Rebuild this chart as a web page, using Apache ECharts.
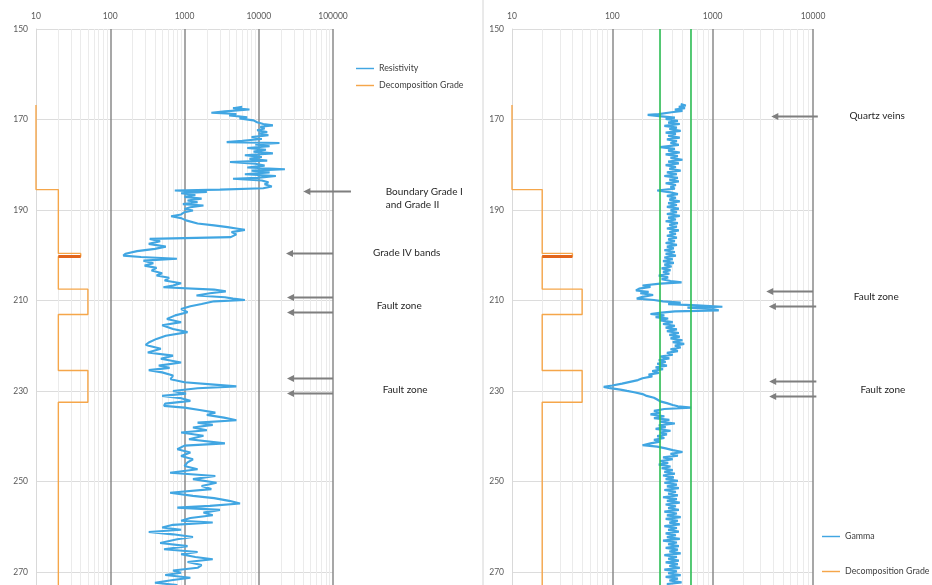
<!DOCTYPE html>
<html><head><meta charset="utf-8">
<script src="https://cdn.jsdelivr.net/npm/echarts@6/dist/echarts.min.js"></script>
<style>html,body{margin:0;padding:0;background:#fff;}#chart{width:932px;height:585px;}</style>
</head><body><div id="chart"></div>
<script>
// ---- tick labels ----
const depthTicks = [150, 170, 190, 210, 230, 250, 270];
const resXTicks = [10, 100, 1000, 10000, 100000];
const gamXTicks = [10, 100, 1000, 10000];

// ---- resistivity (left panel) ----
const resDepth = [167.2,167.5,167.8,168.2,168.5,168.8,169.1,169.5,169.8,170.2,170.6,171.0,171.3,171.6,172.0,172.4,172.8,173.1,173.5,173.9,174.3,174.7,175.0,175.2,175.5,175.9,176.3,176.7,177.1,177.5,177.9,178.3,178.7,179.1,179.4,179.8,180.2,180.6,181.0,181.3,181.7,182.1,182.5,182.9,183.1,183.5,183.9,184.3,184.8,185.2,185.5,185.7,186.0,186.3,186.7,187.1,187.5,187.9,188.3,188.7,189.0,189.4,189.8,190.1,190.5,191.0,191.4,191.8,192.3,193.0,193.4,193.8,194.1,194.4,194.9,195.4,196.0,196.4,196.9,197.5,198.1,198.6,199.1,199.7,200.1,200.4,200.8,201.2,201.8,202.3,202.8,203.4,204.0,204.5,205.0,205.6,206.2,206.7,207.1,207.6,208.0,208.4,208.9,209.3,209.6,209.9,210.2,210.8,211.3,211.9,212.6,213.3,214.1,214.8,215.5,216.3,217.0,217.8,218.5,219.3,219.8,220.0,220.7,221.5,222.2,222.9,223.7,224.4,224.9,225.4,225.9,226.6,227.4,228.1,228.6,229.0,229.4,230.0,230.6,231.1,231.6,232.2,232.8,233.3,233.7,234.2,234.8,235.3,235.9,236.5,237.0,237.5,238.1,238.7,239.2,239.9,240.7,241.6,242.1,242.9,243.6,244.4,245.1,245.8,246.6,247.3,248.1,248.8,249.5,250.3,251.0,251.7,252.5,253.2,253.7,254.3,254.9,255.4,255.8,256.3,256.9,257.5,258.1,258.7,259.1,259.6,260.2,260.7,261.2,261.7,262.3,262.8,263.6,264.3,265.0,265.6,266.1,266.7,267.2,267.8,268.5,269.1,269.7,270.2,270.7,271.3,271.8,272.4,272.9,273.5];
const resValue = [6000,4500,7500,3500,2300,5000,4000,7000,5500,8500,9500,11500,15500,10500,12000,9500,13000,10000,13500,8000,11000,6000,3700,19000,9000,14000,7000,12500,8500,15500,6500,11000,7500,13000,4100,9000,12000,7000,22500,8000,14000,6500,17000,9500,4500,11000,13500,12000,15000,11500,3000,740,2000,900,1400,1000,1700,1100,1500,950,1800,1200,1000,1300,1000,900,660,900,1050,1500,2500,3800,5000,6500,4300,5000,4200,340,470,330,560,400,230,160,150,260,790,280,380,290,420,360,500,420,620,540,900,700,520,2500,3600,2200,1450,3500,4500,6500,2500,1700,1200,900,1100,750,580,900,500,700,1100,560,420,330,300,330,480,320,700,480,900,450,630,330,500,700,650,1000,2500,5000,1500,700,1050,500,900,1200,550,530,1000,1600,2600,2000,3400,5000,1500,2400,1300,2000,900,1800,1150,3500,1000,800,1200,900,1300,1100,1000,1500,640,2600,1300,2700,1700,2300,640,1300,2500,4000,5600,2200,800,3000,1800,2400,1200,900,2400,700,500,900,330,700,1300,800,470,1100,530,1500,900,1400,2400,1100,1700,1500,700,900,550,1200,700,400,800,600];

// ---- gamma (right panel) ----
const gamDepth = [166.6,166.9,167.2,167.5,167.8,168.1,168.4,168.8,169.0,169.3,169.6,169.9,170.3,170.7,171.0,171.4,171.8,172.1,172.5,172.9,173.2,173.6,174.0,174.4,174.8,175.2,175.6,176.1,176.5,176.9,177.3,177.7,178.1,178.5,178.9,179.3,179.7,180.1,180.5,180.9,181.3,181.7,182.1,182.5,182.9,183.3,183.7,184.1,184.5,184.9,185.3,185.7,186.1,186.5,186.9,187.3,187.7,188.1,188.5,188.9,189.3,189.7,190.1,190.5,190.9,191.3,191.7,192.1,192.5,192.9,193.3,193.7,194.1,194.5,194.9,195.3,195.7,196.1,196.5,196.9,197.3,197.7,198.1,198.5,198.9,199.3,199.7,200.1,200.5,200.9,201.3,201.7,202.1,202.5,202.9,203.3,203.7,204.1,204.5,204.9,205.3,205.7,206.0,206.3,206.7,207.0,207.4,207.8,208.1,208.4,208.8,209.2,209.6,209.9,210.2,210.5,210.8,211.1,211.4,211.6,211.9,212.2,212.4,212.7,213.0,213.3,213.7,214.0,214.4,214.8,215.2,215.6,216.0,216.4,216.8,217.2,217.6,218.0,218.4,218.8,219.2,219.6,220.0,220.4,220.8,221.2,221.6,222.0,222.4,222.8,223.2,223.6,224.0,224.4,224.8,225.2,225.6,226.0,226.4,226.8,227.2,227.6,228.0,228.4,228.8,229.1,229.4,229.7,230.0,230.3,230.7,231.1,231.5,231.9,232.3,232.7,233.1,233.4,233.7,234.0,234.4,234.8,235.2,235.6,236.0,236.4,236.8,237.2,237.6,238.0,238.4,238.8,239.2,239.6,240.0,240.4,240.8,241.2,241.6,242.0,242.3,242.7,243.1,243.5,243.9,244.3,244.7,245.1,245.5,245.9,246.3,246.7,247.1,247.5,247.9,248.3,248.7,249.1,249.5,249.9,250.3,250.7,251.1,251.5,251.9,252.3,252.7,253.1,253.5,253.9,254.3,254.7,255.1,255.5,255.9,256.3,256.7,257.1,257.5,257.9,258.3,258.7,259.1,259.5,259.9,260.3,260.7,261.1,261.5,261.9,262.3,262.7,263.1,263.5,263.9,264.3,264.7,265.1,265.5,265.9,266.3,266.7,267.1,267.5,267.9,268.3,268.7,269.1,269.5,269.9,270.3,270.7,271.1,271.5,271.9,272.3,272.7,273.2];
const gamValue = [480,540,460,530,420,500,390,290,225,310,420,340,450,360,470,330,440,370,480,340,430,360,470,350,440,380,460,300,420,360,470,340,450,380,500,360,460,340,430,370,480,350,440,330,450,370,460,340,430,380,420,280,380,450,350,430,370,470,360,440,350,460,380,440,350,470,360,430,340,450,370,440,350,460,370,430,350,440,360,420,340,440,350,410,330,420,340,430,330,400,320,410,330,390,310,380,320,370,290,360,310,380,490,300,200,240,185,172,230,190,255,200,175,260,320,480,360,700,1250,560,1000,1150,420,310,240,330,270,360,300,400,320,420,340,440,350,460,370,470,380,500,400,520,420,480,380,450,350,400,300,370,290,340,280,350,270,320,250,290,230,250,200,180,150,125,100,82,95,120,140,165,200,220,260,280,300,350,400,450,610,330,260,300,240,330,260,370,300,420,290,340,270,380,300,350,280,330,260,300,240,200,280,340,400,500,380,450,320,400,300,360,290,380,310,400,330,420,320,410,340,450,330,440,350,460,330,430,360,450,320,440,350,470,340,430,360,460,330,440,350,480,340,450,370,470,330,440,360,460,340,430,350,470,320,440,360,460,340,450,370,480,330,440,360,460,340,450,370,470,330,440,360,480,340,450,370,490,350,460];

// ---- decomposition grade (both panels) ----
const gradeDepth = [166.8,185.5,185.5,199.6,199.6,200.3,200.3,207.5,207.5,213.1,213.1,225.5,225.5,232.5,232.5,276];
const gradeValue = [10,10,20,20,40,40,20,20,50,50,20,20,50,50,20,20];
const bandDepth = [200.3, 200.3];
const bandValue = [20, 40];

// ---- gamma reference lines ----
const gammaLimits = [300, 600];

// ---- annotations ----
const arrowPanel = [0,0,0,0,0,0,1,1,1,1,1];
const arrowDepth = [185.75,199.5,209.3,212.5,227.2,230.4,169.2,207.9,211.2,227.8,231.1];
const arrowFrom  = [174600,100000,100000,100000,100000,100000,11170,10000,10760,10800,10800];
const arrowTo    = [39800,23300,24000,24000,24000,24000,3840,3420,3630,3660,3660];
const labelPanel = [0,0,0,0,1,1,1];
const labelText  = ['Boundary Grade I\nand Grade II','Grade IV bands','Fault zone','Fault zone','Quartz veins','Fault zone','Fault zone'];
const labelDepth = [187.4,199.5,211.2,229.7,169.2,209.3,229.8];
const labelX     = [513000,346000,388000,467000,23070,25470,29700];

const FONT = 'Lato, "Open Sans", sans-serif';
const DMAX = 272.9;
const LINE_ICON = 'path://M0,0L20,0L20,1.6L0,1.6Z';

function pairs(xs, ds) { return ds.map((d, i) => [xs[i], d]); }
function minorOf(ticks) {
  const out = [];
  for (let i = 0; i < ticks.length - 1; i++) for (let k = 2; k <= 9; k++) out.push(ticks[i] * k);
  return out;
}

function xAxis(idx, ticks) {
  return {
    type: 'log', logBase: 10, gridIndex: idx, position: 'top',
    min: ticks[0], max: ticks[ticks.length - 1],
    axisLine: { show: false }, axisTick: { show: false },
    axisLabel: { fontSize: 8.5, color: '#595959', fontFamily: FONT, margin: 8,
      formatter: v => String(Math.round(v)) },
    splitLine: { show: true, showMinLine: false, lineStyle: { color: '#8a8a8a', width: 1.5 } },
    minorSplitLine: { show: false }
  };
}
function yAxis(idx) {
  return {
    type: 'value', gridIndex: idx, inverse: true, min: 150, max: DMAX, interval: 20,
    axisLine: { show: true, lineStyle: { color: '#d9d9d9', width: 1 } },
    axisTick: { show: false },
    axisLabel: { fontSize: 8.5, color: '#595959', fontFamily: FONT, margin: 8,
      formatter: v => depthTicks.indexOf(v) >= 0 ? String(v) : '' },
    splitLine: { show: true, lineStyle: { color: '#dcdcdc', width: 1 } }
  };
}
function minorSeries(idx, ticks) {
  return {
    name: 'minor' + idx, type: 'line', xAxisIndex: idx, yAxisIndex: idx, data: [],
    silent: true, legendHoverLink: false,
    markLine: { silent: true, symbol: 'none', z: 1, animation: false,
      label: { show: false },
      lineStyle: { color: '#ebebeb', width: 1, type: 'solid' },
      data: minorOf(ticks).map(v => ({ xAxis: v })) }
  };
}
const ORANGE = '#F5A64A', BAND = '#E2651C', BLUE = '#41A6E2';
function gradeSeries(idx) {
  return [{
    name: 'Decomposition Grade', type: 'line', xAxisIndex: idx, yAxisIndex: idx,
    data: pairs(gradeValue, gradeDepth), symbol: 'none', clip: false, z: 3,
    lineStyle: { color: ORANGE, width: 1.4 }, itemStyle: { color: ORANGE }
  }, {
    name: 'band' + idx, type: 'line', xAxisIndex: idx, yAxisIndex: idx,
    data: pairs(bandValue, bandDepth), symbol: 'none', z: 3,
    lineStyle: { color: BAND, width: 3 }, itemStyle: { color: BAND }
  }];
}
function legend(left, top, gap, names) {
  return { orient: 'vertical', left: left, top: top, padding: 0,
    itemWidth: 18, itemHeight: 10, itemGap: gap,
    icon: LINE_ICON, data: names,
    textStyle: { fontSize: 8.8, color: '#404040', fontFamily: FONT } };
}

const chart = echarts.init(document.getElementById('chart'), null, { renderer: 'canvas' });
const option = {
  animation: false,
  backgroundColor: '#fff',
  textStyle: { fontFamily: FONT },
  grid: [
    { left: 36, top: 29, width: 297, bottom: 0, containLabel: false },
    { left: 512, top: 29, width: 301, bottom: 0, containLabel: false }
  ],
  xAxis: [xAxis(0, resXTicks), xAxis(1, gamXTicks)],
  yAxis: [yAxis(0), yAxis(1)],
  legend: [
    legend(356, 64, 8, ['Resistivity', 'Decomposition Grade']),
    legend(822, 532, 26, ['Gamma', 'Decomposition Grade'])
  ],
  series: [
    minorSeries(0, resXTicks),
    minorSeries(1, gamXTicks),
    ...gradeSeries(0),
    ...gradeSeries(1),
    { name: 'Resistivity', type: 'line', xAxisIndex: 0, yAxisIndex: 0,
      data: pairs(resValue, resDepth), symbol: 'none', z: 4,
      lineStyle: { color: BLUE, width: 2.1 }, itemStyle: { color: BLUE } },
    { name: 'Gamma', type: 'line', xAxisIndex: 1, yAxisIndex: 1,
      data: pairs(gamValue, gamDepth), symbol: 'none', z: 4,
      lineStyle: { color: BLUE, width: 2.2 }, itemStyle: { color: BLUE },
      markLine: { silent: true, symbol: 'none', z: 6, label: { show: false },
        lineStyle: { color: '#2DBE55', width: 1.6, type: 'solid' },
        data: gammaLimits.map(v => ({ xAxis: v })) } }
  ]
};
chart.setOption(option);

// annotations positioned through the axes' scales
const graphics = [{
  type: 'line', silent: true, z: 0,
  shape: { x1: 483, y1: 0, x2: 483, y2: 585 },
  style: { stroke: '#d4d4d4', lineWidth: 1 }
}];
const GRAY = '#7f7f7f';
arrowDepth.forEach((d, i) => {
  const p = arrowPanel[i];
  const a = chart.convertToPixel({ xAxisIndex: p, yAxisIndex: p }, [arrowFrom[i], d]);
  const b = chart.convertToPixel({ xAxisIndex: p, yAxisIndex: p }, [arrowTo[i], d]);
  const y = Math.round(a[1]) + 0.5;
  graphics.push({ type: 'line', silent: true, z: 10,
    shape: { x1: a[0], y1: y, x2: b[0] + 5, y2: y },
    style: { stroke: GRAY, lineWidth: 2 } });
  graphics.push({ type: 'polygon', silent: true, z: 10,
    shape: { points: [[b[0], y], [b[0] + 7, y - 3.5], [b[0] + 7, y + 3.5]] },
    style: { fill: GRAY } });
});
labelDepth.forEach((d, i) => {
  const p = labelPanel[i];
  const c = chart.convertToPixel({ xAxisIndex: p, yAxisIndex: p }, [labelX[i], d]);
  graphics.push({ type: 'text', silent: true, z: 10, x: c[0], y: c[1],
    style: { text: labelText[i], fill: '#262626', font: '10px ' + FONT,
      align: 'left', verticalAlign: 'middle', lineHeight: 12.6 } });
});
chart.setOption({ graphic: graphics });
</script>
</body></html>
